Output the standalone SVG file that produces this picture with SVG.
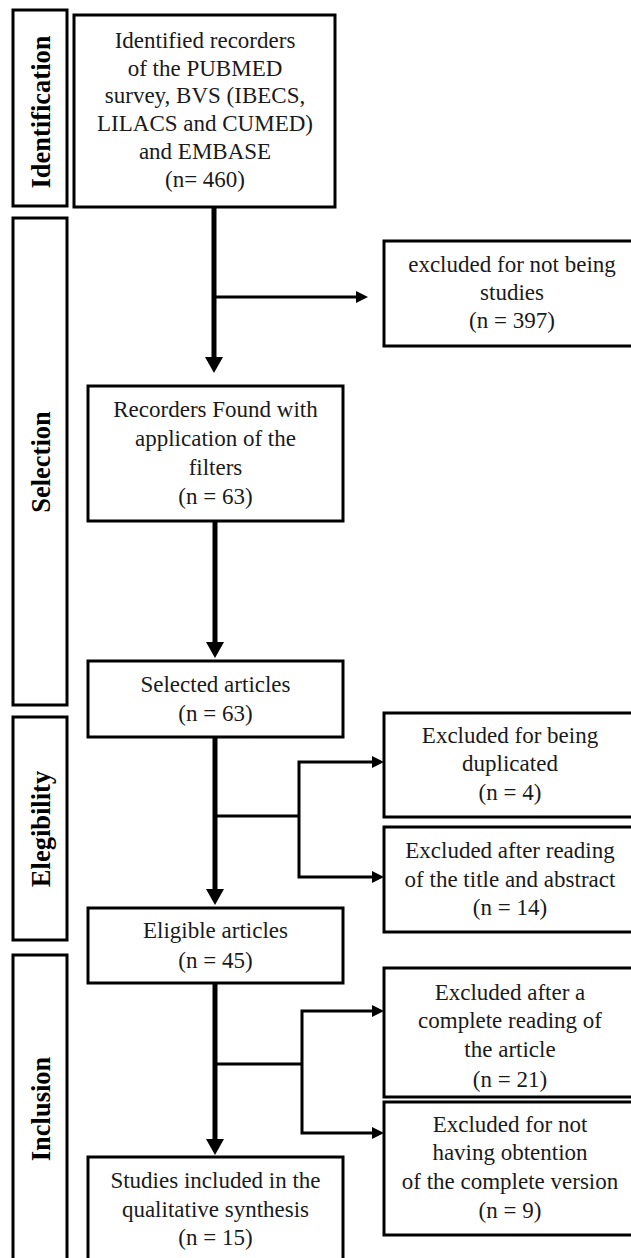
<svg xmlns="http://www.w3.org/2000/svg" width="631" height="1258" viewBox="0 0 631 1258">
<style>
.box{fill:#fff;stroke:#000;stroke-width:3}
.side{fill:#fff;stroke:#000;stroke-width:3}
.t{font-family:"Liberation Serif","Times New Roman",serif;font-size:23px;fill:#1a1a1a;text-anchor:middle}
.s{font-family:"Liberation Serif","Times New Roman",serif;font-size:26.5px;font-weight:bold;fill:#000;text-anchor:middle}
.trunk{stroke:#000;stroke-width:5;fill:none}
.br{stroke:#000;stroke-width:3;fill:none}
.ah{fill:#000}
</style>
<rect width="631" height="1258" fill="#fff"/>
<g id="side-identification"><rect class="side" x="13" y="10" width="54" height="196"/><text class="s" transform="translate(50,112) rotate(-90)">Identification</text></g>
<g id="side-selection"><rect class="side" x="13" y="218" width="54" height="487"/><text class="s" transform="translate(50,462) rotate(-90)">Selection</text></g>
<g id="side-elegibility"><rect class="side" x="13" y="717" width="54" height="223"/><text class="s" transform="translate(50,829) rotate(-90)">Elegibility</text></g>
<g id="side-inclusion"><rect class="side" x="13" y="955" width="54" height="320"/><text class="s" transform="translate(50,1109) rotate(-90)">Inclusion</text></g>
<g id="connectors">
<line class="trunk" x1="214" y1="208" x2="214" y2="358"/><polygon class="ah" points="205,357 223,357 214,373"/>
<line class="br" x1="214" y1="297" x2="357" y2="297"/><polygon class="ah" points="356,291 356,303 368,297"/>
<line class="trunk" x1="215" y1="521" x2="215" y2="643"/><polygon class="ah" points="206,642 224,642 215,658"/>
<line class="trunk" x1="215" y1="737" x2="215" y2="890"/><polygon class="ah" points="206,889 224,889 215,905"/>
<polyline class="br" points="215,816 299,816"/><polyline class="br" points="373,762 299,762 299,877 373,877"/>
<polygon class="ah" points="372,756 372,768 384,762"/><polygon class="ah" points="372,871 372,883 384,877"/>
<line class="trunk" x1="215" y1="983" x2="215" y2="1140"/><polygon class="ah" points="206,1139 224,1139 215,1155"/>
<polyline class="br" points="215,1064 302,1064"/><polyline class="br" points="373,1011 302,1011 302,1133 373,1133"/>
<polygon class="ah" points="372,1005 372,1017 384,1011"/><polygon class="ah" points="372,1127 372,1139 384,1133"/>
</g>
<g id="n-identified"><rect class="box" x="74" y="15" width="261" height="192"/>
<text class="t" x="205" y="48">Identified recorders</text><text class="t" x="205" y="76">of the PUBMED</text><text class="t" x="205" y="103">survey, BVS (IBECS,</text><text class="t" x="205" y="131">LILACS and CUMED)</text><text class="t" x="205" y="159">and EMBASE</text><text class="t" x="205" y="187">(n= 460)</text></g>
<g id="n-excl1"><rect class="box" x="384" y="241" width="260" height="105"/>
<text class="t" x="512" y="272">excluded for not being</text><text class="t" x="512" y="300">studies</text><text class="t" x="512" y="328">(n = 397)</text></g>
<g id="n-filters"><rect class="box" x="88" y="386" width="255" height="135"/>
<text class="t" x="215.5" y="417">Recorders Found with</text><text class="t" x="215.5" y="446">application of the</text><text class="t" x="215.5" y="475">filters</text><text class="t" x="215.5" y="504">(n = 63)</text></g>
<g id="n-selected"><rect class="box" x="88" y="661" width="255" height="76"/>
<text class="t" x="215.5" y="692">Selected articles</text><text class="t" x="215.5" y="721">(n = 63)</text></g>
<g id="n-dup"><rect class="box" x="384" y="713" width="260" height="104"/>
<text class="t" x="510" y="743">Excluded for being</text><text class="t" x="510" y="771">duplicated</text><text class="t" x="510" y="800">(n = 4)</text></g>
<g id="n-title"><rect class="box" x="384" y="827" width="260" height="105"/>
<text class="t" x="510" y="858">Excluded after reading</text><text class="t" x="510" y="887">of the title and abstract</text><text class="t" x="510" y="915">(n = 14)</text></g>
<g id="n-eligible"><rect class="box" x="88" y="908" width="255" height="75"/>
<text class="t" x="215.5" y="938">Eligible articles</text><text class="t" x="215.5" y="968">(n = 45)</text></g>
<g id="n-complete"><rect class="box" x="384" y="968" width="260" height="129"/>
<text class="t" x="510" y="1000">Excluded after a</text><text class="t" x="510" y="1028">complete reading of</text><text class="t" x="510" y="1057">the article</text><text class="t" x="510" y="1087">(n = 21)</text></g>
<g id="n-nothaving"><rect class="box" x="384" y="1102" width="260" height="133"/>
<text class="t" x="510" y="1132">Excluded for not</text><text class="t" x="510" y="1160">having obtention</text><text class="t" x="510" y="1189">of the complete version</text><text class="t" x="510" y="1218">(n = 9)</text></g>
<g id="n-included"><rect class="box" x="88" y="1157" width="255" height="120"/>
<text class="t" x="215.5" y="1188">Studies included in the</text><text class="t" x="215.5" y="1217">qualitative synthesis</text><text class="t" x="215.5" y="1245">(n = 15)</text></g>
</svg>
